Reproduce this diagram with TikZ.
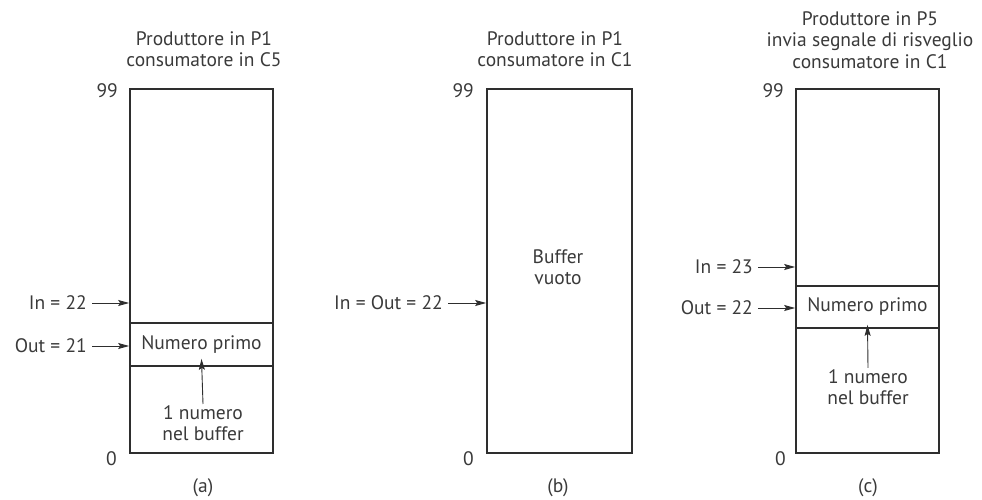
\documentclass[tikz,border=0pt]{standalone}
\usepackage{fontspec}
\setmainfont{PT Sans}
\usetikzlibrary{arrows.meta}
\definecolor{ink}{HTML}{2E2E2E}
\definecolor{txtc}{HTML}{3A3A3A}
\tikzset{
  cell/.style={draw=ink, line width=1.7pt, inner sep=0pt, minimum width=#1},
  txt/.style={text=txtc, font=\fontsize{19.5}{21.5}\selectfont, inner sep=1pt, align=center},
  ptr/.style={draw=ink, line width=0.9pt, -{Stealth[length=11pt,width=6pt,inset=2pt]}},
}
\begin{document}
\begin{tikzpicture}[x=1pt,y=-1pt]
\useasboundingbox (0,0) rectangle (982,500);
% ---------- (a) ----------
\node[txt] (ta) at (204,49) {Produttore in P1\\consumatore in C5};
\node[cell=143pt, minimum height=234pt] (atop) at (201.5,206) {};
\node[cell=143pt, minimum height=43pt] (amid) at (201.5,344.5) {};
\node[cell=143pt, minimum height=87pt] (abot) at (201.5,409.5) {};
\node[txt] at (amid) {Numero primo};
\node[txt] (anum) at (203,423) {1 numero\\nel buffer};
\draw[ptr] (anum.north) -- ([yshift=8pt]amid.south);
\node[txt, anchor=east] (a99) at (119,91) {99};
\node[txt, anchor=east] (a0) at (118,459) {0};
\node[txt, anchor=east] (ain) at (88,303) {In = 22};
\node[txt, anchor=east] (aout) at (88,346) {Out = 21};
\draw[ptr] ([xshift=4pt]ain.east) -- (ain.east -| atop.west);
\draw[ptr] ([xshift=4pt]aout.east) -- (aout.east -| amid.west);
\node[txt] (la) at (203,488) {(a)};
% ---------- (b) ----------
\node[txt] (tb) at (555,49) {Produttore in P1\\consumatore in C1};
\node[cell=145pt, minimum height=364pt] (bbox) at (559.5,271) {};
\node[txt] (bempty) at (558,267) {Buffer\\vuoto};
\node[txt, anchor=east] (b99) at (475,91) {99};
\node[txt, anchor=east] (b0) at (475,459) {0};
\node[txt, anchor=east] (bin) at (444,303) {In = Out = 22};
\draw[ptr] ([xshift=4pt]bin.east) -- (bin.east -| bbox.west);
\node[txt] (lb) at (558,488) {(b)};
% ---------- (c) ----------
\node[txt] (tc) at (870,40) {Produttore in P5\\invia segnale di risveglio\\consumatore in C1};
\node[cell=143pt, minimum height=197pt] (ctop) at (867.5,187.5) {};
\node[cell=143pt, minimum height=42pt] (cmid) at (867.5,307) {};
\node[cell=143pt, minimum height=125pt] (cbot) at (867.5,390.5) {};
\node[txt] at (cmid) {Numero primo};
\node[txt] (cnum) at (868,387) {1 numero\\nel buffer};
\draw[ptr] (cnum.north) -- ([yshift=4pt]cmid.south);
\node[txt, anchor=east] (c99) at (785,91) {99};
\node[txt, anchor=east] (c0) at (787,459) {0};
\node[txt, anchor=east] (cin) at (754,267) {In = 23};
\node[txt, anchor=east] (cout) at (754,308) {Out = 22};
\draw[ptr] ([xshift=4pt]cin.east) -- (cin.east -| ctop.west);
\draw[ptr] ([xshift=4pt]cout.east) -- (cout.east -| cmid.west);
\node[txt] (lc) at (868,488) {(c)};
\end{tikzpicture}
\end{document}
